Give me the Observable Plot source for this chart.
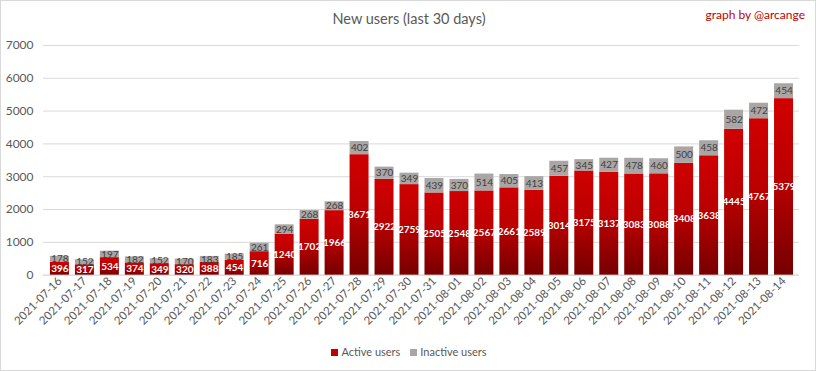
<!DOCTYPE html>
<html><head><meta charset="utf-8">
<script src="https://cdn.jsdelivr.net/npm/d3@7"></script>
<script src="https://cdn.jsdelivr.net/npm/@observablehq/plot@0.6"></script>
<style>
body{margin:0;background:#fff;font-family:Lato,"Open Sans",sans-serif;}
#wrap{position:relative;width:814px;height:369px;border:1px solid #d9d9d9;overflow:hidden;background:#fff;}
#title{position:absolute;left:0;width:816px;top:9px;text-align:center;font-size:14.5px;color:#595959;}
#credit{position:absolute;right:10px;top:6px;font-size:12px;color:#c00000;}
#chart{position:absolute;left:-1px;top:-1px;}
#legend{position:absolute;left:0;width:816px;top:344px;text-align:center;font-size:11px;color:#595959;}
#legend span.sw{display:inline-block;width:7px;height:7px;margin-right:3px;vertical-align:0px;}
#legend span.it{margin:0 5px;}
</style></head>
<body>
<div id="wrap">
<div id="title">New users (last 30 days)</div>
<div id="credit">graph by @arcange</div>
<div id="chart"></div>
<div id="legend"><span class="it"><span class="sw" style="background:#c00000"></span>Active users</span><span class="it"><span class="sw" style="background:#a9a5a5"></span>Inactive users</span></div>
</div>
<script>
const dates = ["2021-07-16","2021-07-17","2021-07-18","2021-07-19","2021-07-20","2021-07-21","2021-07-22","2021-07-23","2021-07-24","2021-07-25","2021-07-26","2021-07-27","2021-07-28","2021-07-29","2021-07-30","2021-07-31","2021-08-01","2021-08-02","2021-08-03","2021-08-04","2021-08-05","2021-08-06","2021-08-07","2021-08-08","2021-08-09","2021-08-10","2021-08-11","2021-08-12","2021-08-13","2021-08-14"];
const active = [396,317,534,374,349,320,388,454,716,1240,1702,1966,3671,2922,2759,2505,2548,2567,2661,2589,3014,3175,3137,3083,3088,3408,3638,4445,4767,5379];
const inactive = [178,152,197,182,152,170,183,185,261,294,268,268,402,370,349,439,370,514,405,413,457,345,427,478,460,500,458,582,472,454];
const yTicks = [0,1000,2000,3000,4000,5000,6000,7000];

const data = dates.map((d,i)=>({date:d, active:active[i], inactive:inactive[i], total:active[i]+inactive[i]}));

const defs = () => {
  const g = d3.create("svg:defs");
  const lg = g.append("linearGradient").attr("id","redgrad").attr("x1",0).attr("y1",0).attr("x2",0).attr("y2",1);
  lg.append("stop").attr("offset","0%").attr("stop-color","#d00000");
  lg.append("stop").attr("offset","45%").attr("stop-color","#bb0000");
  lg.append("stop").attr("offset","100%").attr("stop-color","#760000");
  return g.node();
};

const chart = Plot.plot({
  width: 816,
  height: 340,
  marginLeft: 43,
  marginRight: 16,
  marginTop: 45,
  marginBottom: 65,
  style: {fontFamily: "Lato, 'Open Sans', sans-serif", fontSize: "11px", color: "#595959", background: "transparent"},
  x: {domain: dates, padding: 0.25, label: null},
  y: {domain: [0,7000], label: null},
  marks: [
    defs,
    Plot.gridY(yTicks, {stroke: "#d9d9d9", strokeOpacity: 1}),
    Plot.axisY(yTicks, {tickSize: 0, tickPadding: 10, label: null, fontSize: 12, fill: "#595959", tickFormat: d => String(d)}),
    Plot.axisX({tickSize: 0, tickPadding: 4, tickRotate: -45, label: null, fontSize: 11.5, fill: "#595959"}),
    Plot.ruleY([0], {stroke: "#d9d9d9"}),
    Plot.barY(data, {x: "date", y1: 0, y2: "active", fill: "url(#redgrad)"}),
    Plot.barY(data, {x: "date", y1: "active", y2: "total", fill: "#aaa6a6"}),
    Plot.text(data, {x: "date", y: d => d.active/2, text: d => String(d.active), fill: "white", fontWeight: "bold", fontSize: 10}),
    Plot.text(data, {x: "date", y: d => d.active + d.inactive/2, text: d => String(d.inactive), fill: "#404040", fontSize: 10})
  ]
});
document.getElementById("chart").appendChild(chart);
</script>
</body></html>
